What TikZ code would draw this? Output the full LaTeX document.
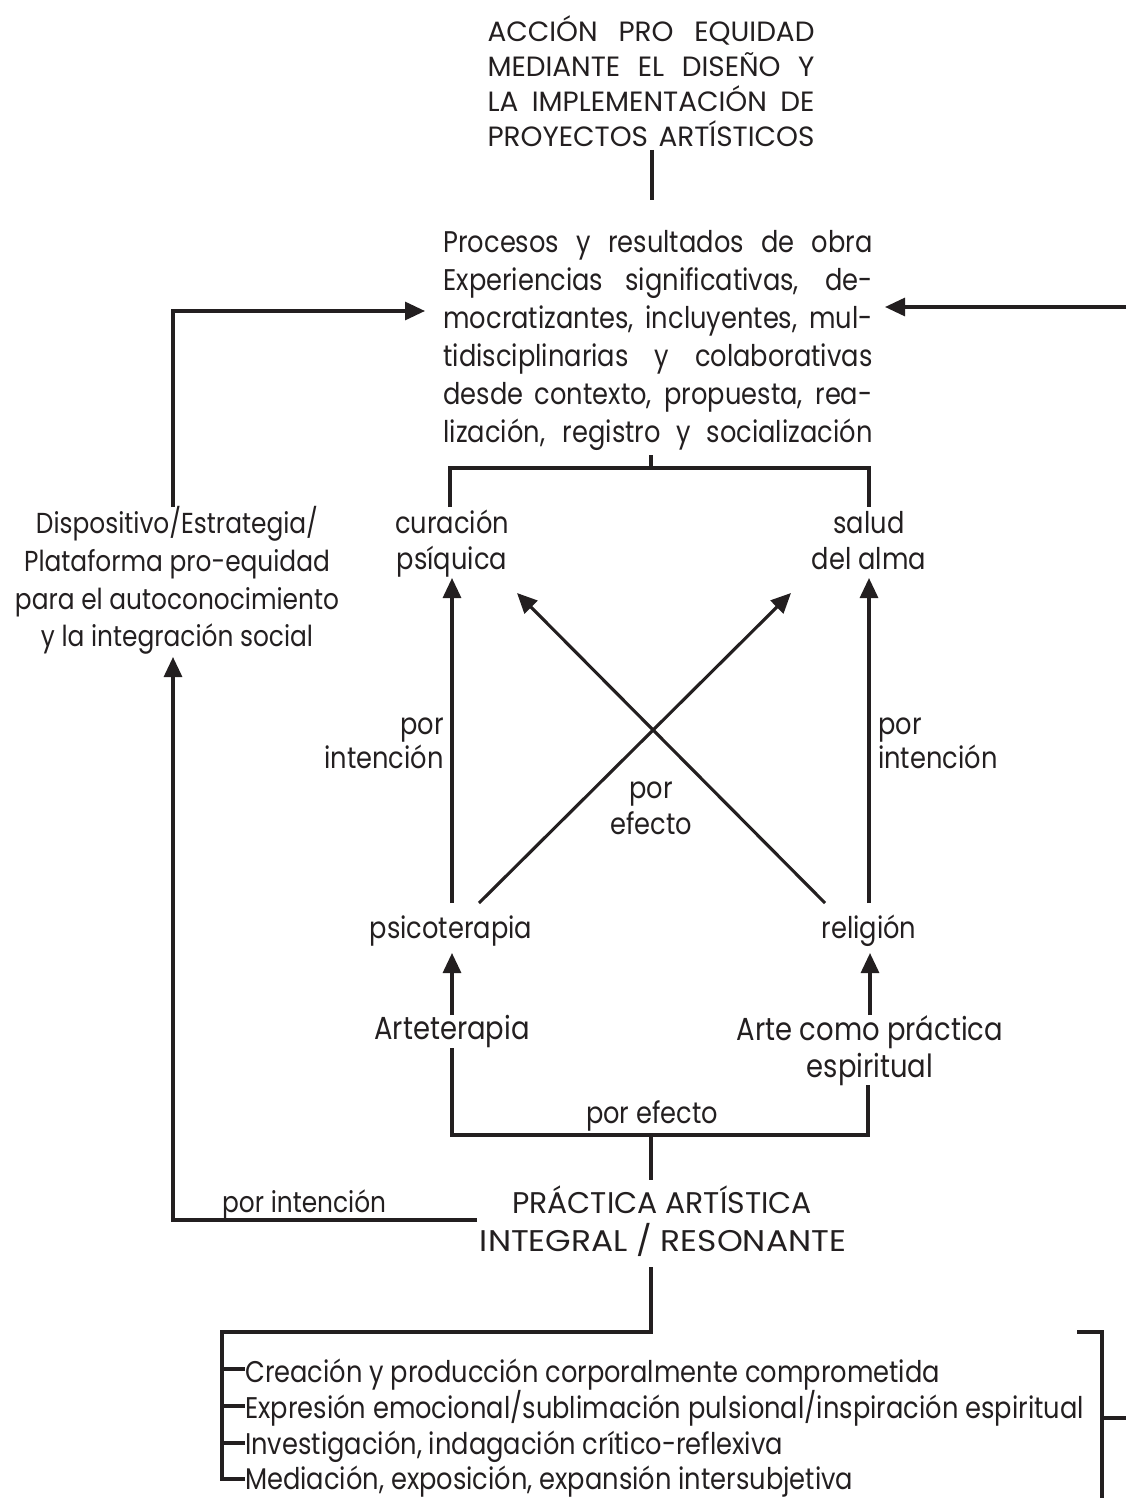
\documentclass[tikz,border=0pt]{standalone}
\usepackage{fontspec}
\setmainfont{Poppins}[FakeStretch=0.86]
\newfontfamily\capsnarrow{Poppins}[FakeStretch=1.0]
\newfontfamily\capswide{Poppins}[FakeStretch=1.1]
\usetikzlibrary{arrows.meta}
\definecolor{ink}{HTML}{231F20}
\begin{document}
\begin{tikzpicture}[x=1bp,y=-1bp,
  every node/.style={inner sep=0pt, text=ink},
  conn/.style={draw=ink, line width=3.1bp},
  arr/.style={conn, -{Triangle[length=20bp,width=18bp]}},
  ln/.style={anchor=base, font=\fontsize{30}{36}\selectfont},
  lnd/.style={anchor=base, font=\fontsize{29}{35}\selectfont},
  big/.style={anchor=base, font=\fontsize{32}{38}\selectfont},
  ttl/.style={anchor=base, font=\capsnarrow\fontsize{28}{34}\selectfont}]
\useasboundingbox (0,0) rectangle (1126,1498);
% title
\node[ttl] (t1) at (651,42) {\makebox[327bp][s]{ACCIÓN PRO EQUIDAD}};
\node[ttl] (t2) at (651,77) {\makebox[327bp][s]{MEDIANTE EL DISEÑO Y}};
\node[ttl] (t3) at (651,112) {\makebox[327bp][s]{LA IMPLEMENTACIÓN DE}};
\node[ttl] (t4) at (651,147) {\makebox[327bp][s]{PROYECTOS ARTÍSTICOS}};
% main block
\node[ln] (m1) at (658,252) {\makebox[429bp][s]{Procesos y resultados de obra}};
\node[ln] (m2) at (658,290) {\makebox[429bp][s]{Experiencias significativas, de-}};
\node[ln] (m3) at (658,328) {\makebox[429bp][s]{mocratizantes, incluyentes, mul-}};
\node[ln] (m4) at (658,366) {\makebox[429bp][s]{tidisciplinarias y colaborativas}};
\node[ln] (m5) at (658,404) {\makebox[429bp][s]{desde contexto, propuesta, rea-}};
\node[ln] (m6) at (658,442) {\makebox[429bp][s]{lización, registro y socialización}};
% left block
\node[lnd] (d1) at (177,533) {Dispositivo/Estrategia/};
\node[lnd] (d2) at (177,571) {Plataforma pro-equidad};
\node[lnd] (d3) at (177,609) {para el autoconocimiento};
\node[lnd] (d4) at (177,646) {y la integración social};
% curacion / salud
\node[ln] (c1) at (452,533) {curación};
\node[ln] (c2) at (452,569) {psíquica};
\node[ln] (s1) at (869,533) {salud};
\node[ln] (s2) at (869,569) {del alma};
% labels
\node[ln, anchor=base east] (pi1) at (444,734) {por};
\node[ln, anchor=base east] (pi2) at (444,768) {intención};
\node[ln, anchor=base west] (pd1) at (878,734) {por};
\node[ln, anchor=base west] (pd2) at (878,768) {intención};
\node[ln] (pe1) at (651,798) {por};
\node[ln] (pe2) at (651,834) {efecto};
% psicoterapia / religion
\node[ln] (psi) at (451,938) {psicoterapia};
\node[ln] (rel) at (869,938) {religión};
% arte
\node[big] (art) at (452,1039) {Arteterapia};
\node[big] (ap1) at (870,1040) {Arte como práctica};
\node[big] (ap2) at (870,1077) {espiritual};
\node[ln] (pef) at (652,1123) {por efecto};
\node[lnd, anchor=base west] (pint) at (222,1212) {por intención};
\node[anchor=base, font=\capsnarrow\fontsize{30}{36}\selectfont] (pa1) at (662,1213) {PRÁCTICA ARTÍSTICA};
\node[anchor=base, font=\capswide\fontsize{30}{36}\selectfont] (pa2) at (663,1251) {INTEGRAL / RESONANTE};
% list
\node[ln, anchor=base west] (l1) at (245,1382) {Creación y producción corporalmente comprometida};
\node[ln, anchor=base west] (l2) at (245,1418) {Expresión emocional/sublimación pulsional/inspiración espiritual};
\node[ln, anchor=base west] (l3) at (245,1454) {Investigación, indagación crítico-reflexiva};
\node[ln, anchor=base west] (l4) at (245,1489) {Mediación, exposición, expansión intersubjetiva};
% coordinates
\coordinate (tb) at (652,150);
\coordinate (mt) at (652,200);
\coordinate (mb) at (651,455);
\coordinate (mj) at (651,468);
\coordinate (cl) at (450,468);
\coordinate (cr) at (869,468);
\coordinate (clb) at (450,507);
\coordinate (crb) at (869,507);
\coordinate (lc) at (173,311);
\coordinate (ltip) at (425,311);
\coordinate (lbot) at (173,507);
\coordinate (rin) at (1126,307);
\coordinate (rtip) at (885,307);
% connectors
\draw[conn] (tb) -- (mt);
\draw[arr] (lbot) -- (lc) -- (ltip);
\draw[arr] (rin) -- (rtip);
\draw[conn] (mb) -- (mj);
\draw[conn] (clb) -- (cl) -- (cr) -- (crb);
\draw[arr] (452,903) -- (452,578);
\draw[arr] (869,903) -- (869,578);
\draw[arr] (479,903) -- (791,593);
\draw[arr] (825,903) -- (517,593);
\draw[arr] (452,1015) -- (452,953);
\draw[arr] (870,1015) -- (870,953);
\draw[conn] (452,1048) -- (452,1135) -- (868,1135) -- (868,1085);
\draw[conn] (651,1135) -- (651,1180);
\draw[arr] (477,1220) -- (173,1220) -- (173,657);
\draw[conn] (651,1267) -- (651,1332) -- (222,1332) -- (222,1479) -- (245,1479);
\foreach \yy in {1369,1406,1443} \draw[conn] (222,\yy) -- (245,\yy);
\draw[conn] (1077,1332) -- (1102,1332) -- (1102,1498);
\draw[conn] (1102,1418) -- (1126,1418);
\end{tikzpicture}
\end{document}
